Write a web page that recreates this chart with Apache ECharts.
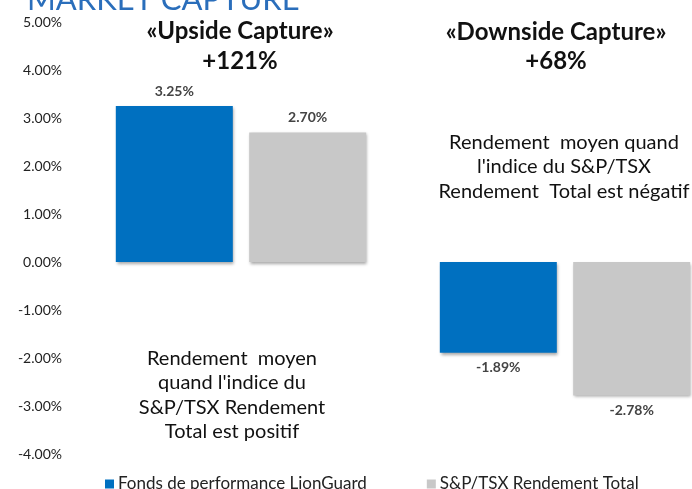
<!DOCTYPE html>
<html>
<head>
<meta charset="utf-8">
<script src="https://cdn.jsdelivr.net/npm/echarts@6/dist/echarts.min.js"></script>
<style>
  html, body { margin: 0; padding: 0; background: #fff; }
  #main { width: 692px; height: 489px; }
</style>
</head>
<body>
<div id="main"></div>
<script>
// données du graphique
var categories = ['Upside Capture', 'Downside Capture'];
var seriesNames = ['Fonds de performance LionGuard', 'S&P/TSX Rendement Total'];
var fondsValues = [3.25, -1.89];
var indexValues = [2.70, -2.78];
var captureLabels = ['«Upside Capture»', '«Downside Capture»'];
var captureValues = ['+121%', '+68%'];
var yTicks = { min: -4, max: 5, interval: 1 };

var chartDom = document.getElementById('main');
var myChart = echarts.init(chartDom);
var option;

var FONT = 'Lato, "Open Sans", sans-serif';

function toItems(values) {
  return values.map(function (v) {
    return { value: v, label: { position: v >= 0 ? 'top' : 'bottom' } };
  });
}

var barShadow = {
  shadowBlur: 3,
  shadowOffsetX: 1,
  shadowOffsetY: 2,
  shadowColor: 'rgba(0,0,0,0.35)'
};

option = {
  animation: false,
  textStyle: { fontFamily: FONT },
  grid: { left: 79, width: 648, top: 22, height: 432, outerBoundsMode: 'none' },
  legend: {
    left: 105,
    top: 475.5,
    padding: 0,
    itemWidth: 9,
    itemHeight: 9,
    itemGap: 60,
    icon: 'rect',
    textStyle: { fontSize: 17, color: '#222', fontFamily: FONT, padding: [0, 0, 0, -1] },
    data: seriesNames
  },
  xAxis: {
    type: 'category',
    data: categories,
    show: false
  },
  yAxis: {
    type: 'value',
    min: yTicks.min,
    max: yTicks.max,
    interval: yTicks.interval,
    axisLine: { show: false },
    axisTick: { show: false },
    splitLine: { show: false },
    axisLabel: {
      margin: 17,
      fontSize: 14,
      color: '#222',
      formatter: function (v) { return v.toFixed(2) + '%'; }
    }
  },
  graphic: [
    {
      type: 'text', left: 27, top: -16,
      style: { text: 'MARKET CAPTURE', fontSize: 31, fontFamily: FONT, fill: '#2a6ebb' }
    },
    {
      type: 'text', x: 240, y: 46,
      style: { text: captureLabels[0] + '\n' + captureValues[0], align: 'center', verticalAlign: 'middle',
        fontSize: 24, fontWeight: 'bold', lineHeight: 30, fill: '#111', fontFamily: FONT }
    },
    {
      type: 'text', x: 556, y: 47,
      style: { text: captureLabels[1] + '\n' + captureValues[1], align: 'center', verticalAlign: 'middle',
        fontSize: 24, fontWeight: 'bold', lineHeight: 29, fill: '#111', fontFamily: FONT }
    },
    {
      type: 'text', x: 232, y: 395,
      style: { text: 'Rendement  moyen\nquand l\'indice du\nS&P/TSX Rendement\nTotal est positif',
        align: 'center', verticalAlign: 'middle', fontSize: 20, lineHeight: 24.5, fill: '#111', fontFamily: FONT }
    },
    {
      type: 'text', x: 564, y: 167,
      style: { text: 'Rendement  moyen quand\nl\'indice du S&P/TSX\nRendement  Total est négatif',
        align: 'center', verticalAlign: 'middle', fontSize: 20, lineHeight: 24.5, fill: '#111', fontFamily: FONT }
    }
  ],
  series: [
    {
      name: seriesNames[0],
      type: 'bar',
      barWidth: 117,
      barGap: '14%',
      data: toItems(fondsValues),
      itemStyle: Object.assign({ color: '#0070c0' }, barShadow),
      label: {
        show: true, distance: 8, fontSize: 14, fontWeight: 'bold', color: '#444',
        formatter: function (p) { return p.value.toFixed(2) + '%'; }
      }
    },
    {
      name: seriesNames[1],
      type: 'bar',
      barWidth: 117,
      barGap: '14%',
      data: toItems(indexValues),
      itemStyle: Object.assign({ color: '#c8c8c8' }, barShadow),
      label: {
        show: true, distance: 8, fontSize: 14, fontWeight: 'bold', color: '#444',
        formatter: function (p) { return p.value.toFixed(2) + '%'; }
      }
    }
  ]
};

option && myChart.setOption(option);
</script>
</body>
</html>
